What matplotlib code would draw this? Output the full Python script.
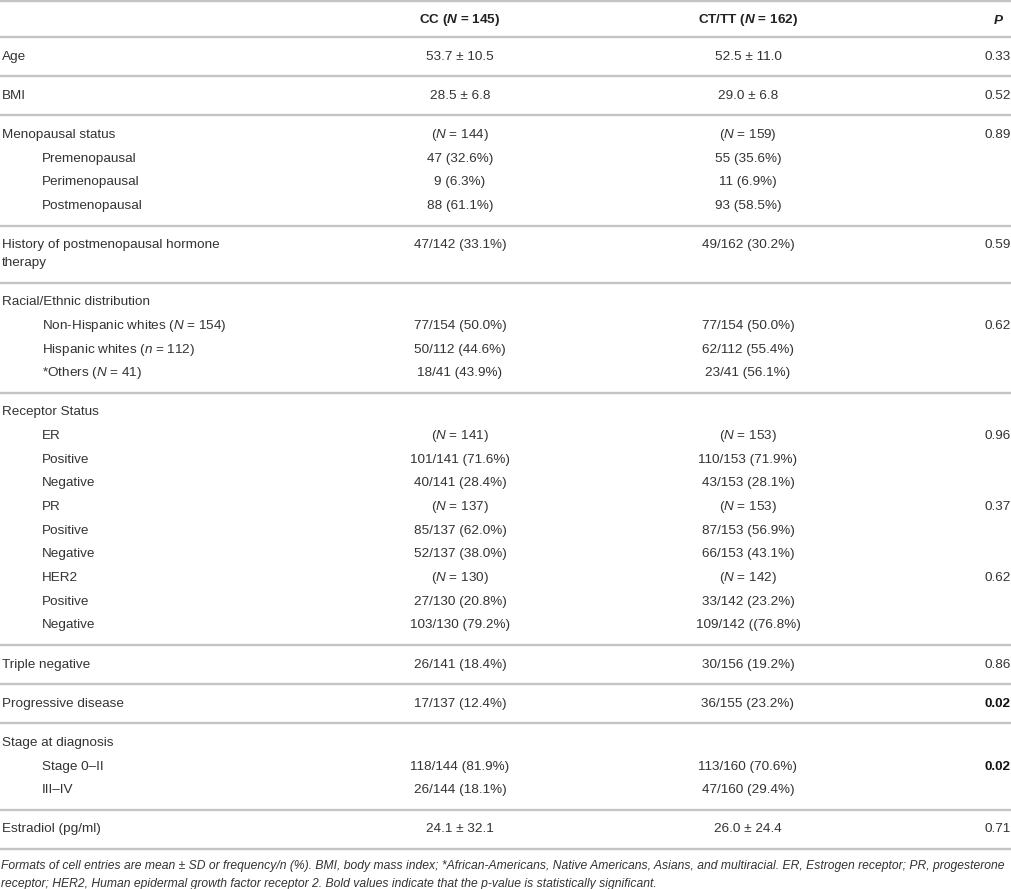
import matplotlib
matplotlib.use('Agg')
import matplotlib.pyplot as plt
from matplotlib import font_manager

plt.rcParams['font.family'] = ['Liberation Sans', 'DejaVu Sans']
plt.rcParams['mathtext.fontset'] = 'custom'
plt.rcParams['mathtext.rm'] = 'Liberation Sans'
plt.rcParams['mathtext.it'] = 'Liberation Sans:italic'
plt.rcParams['mathtext.bf'] = 'Liberation Sans:bold'
plt.rcParams['mathtext.bfit'] = 'Liberation Sans:bold:italic'

# 表头
col_headers = [r'CC ($\mathbfit{N}$ = 145)', r'CT/TT ($\mathbfit{N}$ = 162)', r'$\mathbfit{P}$']

# 分组数据：每组为若干行 (标签, 缩进级别, CC, CT/TT, P, P加粗)
groups = [
    [('Age', 0, '53.7 ± 10.5', '52.5 ± 11.0', '0.33', 0)],
    [('BMI', 0, '28.5 ± 6.8', '29.0 ± 6.8', '0.52', 0)],
    [('Menopausal status', 0, r'($\mathit{N}$ = 144)', r'($\mathit{N}$ = 159)', '0.89', 0),
     ('Premenopausal', 1, '47 (32.6%)', '55 (35.6%)', '', 0),
     ('Perimenopausal', 1, '9 (6.3%)', '11 (6.9%)', '', 0),
     ('Postmenopausal', 1, '88 (61.1%)', '93 (58.5%)', '', 0)],
    [('History of postmenopausal hormone\ntherapy', 0, '47/142 (33.1%)', '49/162 (30.2%)', '0.59', 0)],
    [('Racial/Ethnic distribution', 0, '', '', '', 0),
     (r'Non-Hispanic whites ($\mathit{N}$ = 154)', 1, '77/154 (50.0%)', '77/154 (50.0%)', '0.62', 0),
     (r'Hispanic whites ($\mathit{n}$ = 112)', 1, '50/112 (44.6%)', '62/112 (55.4%)', '', 0),
     (r'*Others ($\mathit{N}$ = 41)', 1, '18/41 (43.9%)', '23/41 (56.1%)', '', 0)],
    [('Receptor Status', 0, '', '', '', 0),
     ('ER', 1, r'($\mathit{N}$ = 141)', r'($\mathit{N}$ = 153)', '0.96', 0),
     ('Positive', 2, '101/141 (71.6%)', '110/153 (71.9%)', '', 0),
     ('Negative', 2, '40/141 (28.4%)', '43/153 (28.1%)', '', 0),
     ('PR', 1, r'($\mathit{N}$ = 137)', r'($\mathit{N}$ = 153)', '0.37', 0),
     ('Positive', 2, '85/137 (62.0%)', '87/153 (56.9%)', '', 0),
     ('Negative', 2, '52/137 (38.0%)', '66/153 (43.1%)', '', 0),
     ('HER2', 1, r'($\mathit{N}$ = 130)', r'($\mathit{N}$ = 142)', '0.62', 0),
     ('Positive', 2, '27/130 (20.8%)', '33/142 (23.2%)', '', 0),
     ('Negative', 2, '103/130 (79.2%)', '109/142 ((76.8%)', '', 0)],
    [('Triple negative', 0, '26/141 (18.4%)', '30/156 (19.2%)', '0.86', 0)],
    [('Progressive disease', 0, '17/137 (12.4%)', '36/155 (23.2%)', '0.02', 1)],
    [('Stage at diagnosis', 0, '', '', '', 0),
     ('Stage 0–II', 1, '118/144 (81.9%)', '113/160 (70.6%)', '0.02', 1),
     ('III–IV', 1, '26/144 (18.1%)', '47/160 (29.4%)', '', 0)],
    [('Estradiol (pg/ml)', 0, '24.1 ± 32.1', '26.0 ± 24.4', '0.71', 0)],
]

footnote = [
    'Formats of cell entries are mean ± SD or frequency/n (%). BMI, body mass index; *African-Americans, '
    'Native Americans, Asians, and multiracial. ER, Estrogen receptor; PR, progesterone',
    'receptor; HER2, Human epidermal growth factor receptor 2. Bold values indicate that the p-value is '
    'statistically significant.',
]

W, H = 1012, 889
fig = plt.figure(figsize=(W / 100, H / 100), dpi=100)
ax = fig.add_axes([0, 0, 1, 1])
ax.set_xlim(0, W)
ax.set_ylim(H, 0)
ax.axis('off')

txt_color = '#333333'
line_color = '#c4c4c4'
fs = 9.7
x_label = [2, 42, 42]
x_cc, x_ct, x_p = 460, 748, 1011
pad, step, wrap = 19.6, 23.65, 18.0


def hline(y):
    ax.plot([0, W], [y, y], color=line_color, lw=1.7, solid_capstyle='butt')


# 表头
hline(1)
ax.text(x_cc, 20, col_headers[0], ha='center', va='center', fontsize=fs, fontweight='bold', color='#222222')
ax.text(x_ct, 20, col_headers[1], ha='center', va='center', fontsize=fs, fontweight='bold', color='#222222')
ax.text(999, 20, col_headers[2], ha='center', va='center', fontsize=fs, fontweight='bold', color='#222222')
y_line = 37
hline(y_line)

for grp in groups:
    y = y_line + pad
    for i, (lab, ind, cc, ct, p, pb) in enumerate(grp):
        if i > 0:
            y += step
        parts = lab.split('\n')
        for k, part in enumerate(parts):
            ax.text(x_label[ind], y + k * wrap, part, ha='left', va='center', fontsize=fs, color=txt_color)
        ax.text(x_cc, y, cc, ha='center', va='center', fontsize=fs, color=txt_color)
        ax.text(x_ct, y, ct, ha='center', va='center', fontsize=fs, color=txt_color)
        ax.text(x_p, y, p, ha='right', va='center', fontsize=fs, color='#111111' if pb else txt_color,
                fontweight='bold' if pb else 'normal')
        y += (len(parts) - 1) * wrap
    y_line = y + pad
    hline(y_line)

# 脚注（斜体，按宽度缩放）
names = {f.name for f in font_manager.fontManager.ttflist}
fn_family = 'Liberation Sans Narrow' if 'Liberation Sans Narrow' in names else 'Liberation Sans'
fn_fs = 8.5
t1 = ax.text(1, y_line + 17, footnote[0], ha='left', va='center', fontsize=fn_fs,
             style='italic', family=fn_family, color=txt_color)
fig.canvas.draw()
wpx = t1.get_window_extent().width
fn_fs = fn_fs * 995 / wpx
t1.set_fontsize(fn_fs)
ax.text(1, y_line + 35, footnote[1], ha='left', va='center', fontsize=fn_fs,
        style='italic', family=fn_family, color=txt_color)

fig.savefig('out.png', dpi=100)
